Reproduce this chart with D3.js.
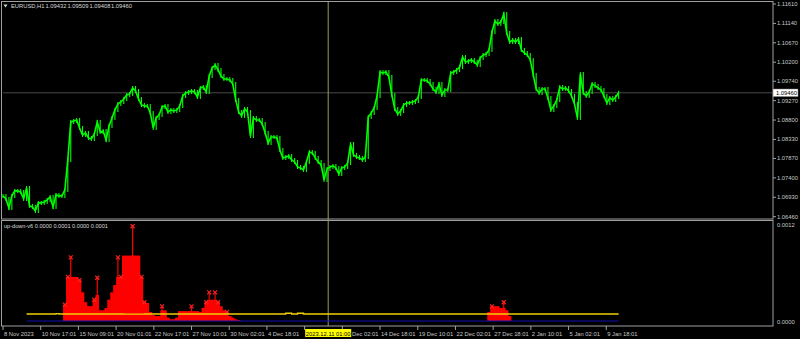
<!DOCTYPE html>
<html>
<head>
<meta charset="utf-8">
<script src="https://cdn.jsdelivr.net/npm/d3@7"></script>
<style>
  body { margin: 0; background: #000; }
  svg { display: block; }
  text { font-family: "Liberation Sans", Arial, sans-serif; font-size: 5.8px; fill: #c8c8c8; }
</style>
</head>
<body>
<svg width="800" height="339"></svg>
<script>
// EURUSD H1, one close every 5 bars
var barsPerSample = 5;
var closes = [
  1.06964,1.06891,1.06673,1.06964,1.07085,1.07085,1.07060,1.06891,1.07157,1.06722,
  1.06697,1.06601,1.06794,1.06794,1.06818,1.06867,1.06939,1.06697,1.06988,1.06964,
  1.06964,1.07109,1.07835,1.08754,1.08779,1.08803,1.08609,1.08440,1.08488,1.08367,
  1.08343,1.08464,1.08754,1.08512,1.08537,1.08319,1.08658,1.08851,1.09045,1.09190,
  1.09238,1.09311,1.09408,1.09432,1.09577,1.09505,1.09311,1.09166,1.09142,1.09142,
  1.08972,1.08609,1.08851,1.08924,1.09117,1.09142,1.08996,1.09045,1.09021,1.09045,
  1.09142,1.09384,1.09456,1.09480,1.09505,1.09480,1.09359,1.09577,1.09601,1.09480,
  1.09868,1.10061,1.10134,1.10013,1.09868,1.09795,1.09795,1.09771,1.09674,1.09287,
  1.08996,1.08900,1.09069,1.08996,1.08416,1.08851,1.08803,1.08803,1.08706,1.08488,
  1.08246,1.08391,1.08391,1.08367,1.08077,1.07883,1.07907,1.07932,1.07835,1.07786,
  1.07665,1.07641,1.07593,1.07786,1.08028,1.08004,1.07883,1.07786,1.07714,1.07351,
  1.07617,1.07665,1.07690,1.07641,1.07496,1.07641,1.07665,1.07762,1.08222,1.07956,
  1.07907,1.07883,1.07835,1.07907,1.08875,1.08972,1.09093,1.09384,1.09964,1.09940,
  1.09964,1.09843,1.09408,1.09069,1.08948,1.09021,1.09166,1.09214,1.09214,1.09238,
  1.09263,1.09359,1.09771,1.09771,1.09747,1.09674,1.09553,1.09480,1.09674,1.09408,
  1.09529,1.09529,1.09940,1.09964,1.10013,1.10085,1.10327,1.10206,1.10231,1.10255,
  1.10206,1.10134,1.10303,1.10376,1.10400,1.10497,1.10932,1.11199,1.11126,1.11174,
  1.11368,1.10908,1.10690,1.10739,1.10690,1.10763,1.10497,1.10424,1.10376,1.10255,
  1.09892,1.09553,1.09456,1.09553,1.09553,1.09335,1.09045,1.09142,1.09287,1.09601,
  1.09553,1.09577,1.09505,1.09384,1.09190,1.08851,1.09916,1.09456,1.09384,1.09480,
  1.09674,1.09626,1.09577,1.09529,1.09384,1.09214,1.09335,1.09287,1.09359,1.09460
];

var priceTicks = [1.11610,1.11140,1.10670,1.10200,1.09740,1.09270,1.08800,1.08330,1.07870,1.07400,1.06930,1.06460];
var lastPrice = 1.09460;
var titleParts = ["EURUSD,H1", "1.09432", "1.09509", "1.09408", "1.09460"];

var timeTickBars = [0,64,128,192,256,320,384,448,512,576,640,704,768,832,896,960,1024];
var timeLabels = ["8 Nov 2023","10 Nov 17:01","15 Nov 09:01","20 Nov 01:01","22 Nov 17:01","27 Nov 10:01",
  "30 Nov 02:01","4 Dec 18:01","7 Dec 10:01","11 Dec 02:01","14 Dec 18:01","19 Dec 10:01","22 Dec 02:01",
  "27 Dec 18:01","2 Jan 10:01","5 Jan 02:01","9 Jan 18:01"];
var crossBar = 552;
var crossLabel = "2023.12.11 01:00";

// up-down-v6 indicator
var upStart1 = 21;
var upVals1 = [0.00020,0.00054,0.00078,0.00054,0.00054,0.00050,0.00035,0.00023,0.00018,0.00018,
  0.00026,0.00053,0.00013,0.00013,0.00016,0.00026,0.00035,0.00044,0.00078,0.00054,
  0.00080,0.00080,0.00080,0.00116,0.00080,0.00080,0.00054,0.00023,0.00022,0.00011,
  0.00007,0.00006,0.00006,0.00018,0.00013,0.00004,0.00002,0.00002,0.00004,0.00012,
  0.00012,0.00012,0.00012,0.00018,0.00012,0.00012,0.00011,0.00016,0.00023,0.00035,
  0.00026,0.00035,0.00023,0.00018,0.00013,0.00011,0.00006,0.00004,0.00002,0.00001];
var upStart2 = 165;
var upVals2 = [0.00011,0.00018,0.00018,0.00018,0.00016,0.00023,0.00013,0.00006];
var markIdx = [21,22,23,26,31,32,39,40,44,47,48,54,64,69,70,72,73,76,166,170];
var yellowSteps = [[8,0.000086],[17,0.000086],[18,0.000090],[19,0.000086],[41,0.000084],[48,0.000086],
  [96,0.000095],[98,0.000086],[100,0.000095],[102,0.000086],[209,0.000086]];
var blueSteps = [[8,0],[209,0]];
var subTicks = [0.0012, 0.0000];

var svg = d3.select("svg");
var plotL = 3, plotR = 773;

var x = d3.scaleLinear().domain([0, 1307]).range([plotL, plotR]);
var y = d3.scaleLinear().domain([1.06460, 1.11610]).range([216.7, 4]);
var ys = d3.scaleLinear().domain([0, 0.0012]).range([321, 223]);

// frames
var frame = "#a0a0a0";
svg.append("rect").attr("x", 1.5).attr("y", 1.5).attr("width", plotR - 1.5).attr("height", 217.5)
  .attr("fill", "none").attr("stroke", frame);
svg.append("rect").attr("x", 1.5).attr("y", 220.5).attr("width", plotR - 1.5).attr("height", 105.5)
  .attr("fill", "none").attr("stroke", frame);

// crosshair
svg.append("line").attr("x1", plotL).attr("x2", plotR).attr("y1", y(lastPrice)).attr("y2", y(lastPrice))
  .attr("stroke", "#4a4a4a").attr("stroke-width", 1);
svg.append("line").attr("x1", x(crossBar)).attr("x2", x(crossBar)).attr("y1", 2).attr("y2", 326)
  .attr("stroke", "#9c9c5c").attr("stroke-width", 1);

// price
var pts = closes.map(function (c, i) { return [x(i * barsPerSample), y(c)]; });
var g = svg.append("g");
g.selectAll("line.bar").data(closes).enter().append("line")
  .attr("x1", function (d, i) { return x(i * barsPerSample); })
  .attr("x2", function (d, i) { return x(i * barsPerSample); })
  .attr("y1", function (d, i) { var p = i ? closes[i - 1] : d; return y(Math.min(p, d)) + 2; })
  .attr("y2", function (d, i) { var p = i ? closes[i - 1] : d; return y(Math.max(p, d)) - 2; })
  .attr("stroke", "#00ff00").attr("stroke-width", 1.1);
g.append("path").attr("d", d3.line()(pts)).attr("fill", "none")
  .attr("stroke", "#00ff00").attr("stroke-width", 1.6);

// price axis
var pa = svg.append("g");
pa.selectAll("line").data(priceTicks).enter().append("line")
  .attr("x1", plotR).attr("x2", plotR + 3)
  .attr("y1", function (d) { return y(d); }).attr("y2", function (d) { return y(d); })
  .attr("stroke", frame);
pa.selectAll("text").data(priceTicks).enter().append("text")
  .attr("x", plotR + 4).attr("y", function (d) { return y(d) + 2; })
  .text(function (d) { return d.toFixed(5); });
svg.append("rect").attr("x", plotR).attr("y", y(lastPrice) - 3.8).attr("width", 25).attr("height", 7.6)
  .attr("fill", "#fff").attr("stroke", "#777").attr("stroke-width", 0.5);
svg.append("text").attr("x", plotR + 3).attr("y", y(lastPrice) + 2).style("fill", "#000")
  .text(lastPrice.toFixed(5));

// title
svg.append("path").attr("d", "M3.5,4.5 L7.5,4.5 L5.5,7.5 Z").attr("fill", "#d8d8d8");
var titleX = [11, 45.5, 67.5, 89.5, 111];
svg.selectAll("text.title").data(titleParts).enter().append("text")
  .attr("x", function (d, i) { return titleX[i]; }).attr("y", 8).style("fill", "#d8d8d8")
  .text(function (d) { return d; });

// indicator histogram
var up = [];
upVals1.forEach(function (v, k) { up.push({ i: upStart1 + k, v: v }); });
upVals2.forEach(function (v, k) { up.push({ i: upStart2 + k, v: v }); });
var upMap = {};
up.forEach(function (d) { upMap[d.i] = d.v; });
var bw = x(barsPerSample) - x(0);
function body(d) {
  var nb = Math.max(upMap[d.i - 1] || 0, upMap[d.i + 1] || 0);
  return Math.min(d.v, Math.max(nb, d.v * 0.6));
}
var sub = svg.append("g");
sub.selectAll("rect").data(up).enter().append("rect")
  .attr("x", function (d) { return x(d.i * barsPerSample) - bw / 2 - 0.3; })
  .attr("width", bw + 0.6)
  .attr("y", function (d) { return ys(body(d)); })
  .attr("height", function (d) { return ys(0) - ys(body(d)); })
  .attr("fill", "#ff0000");
sub.selectAll("line.spike").data(up).enter().append("line")
  .attr("x1", function (d) { return x(d.i * barsPerSample); })
  .attr("x2", function (d) { return x(d.i * barsPerSample); })
  .attr("y1", ys(0)).attr("y2", function (d) { return ys(d.v); })
  .attr("stroke", "#ff0000").attr("stroke-width", 1.2);
sub.selectAll("path.mark").data(markIdx).enter().append("path")
  .attr("transform", function (d) { return "translate(" + x(d * barsPerSample) + "," + ys(upMap[d]) + ")"; })
  .attr("d", "M-2,-2L2,2M-2,2L2,-2")
  .attr("stroke", "#ff2020").attr("stroke-width", 1.2);

var stepLine = d3.line()
  .x(function (d) { return x(d[0] * barsPerSample); })
  .y(function (d) { return ys(d[1]); })
  .curve(d3.curveStepAfter);
svg.append("path").attr("d", stepLine(yellowSteps)).attr("fill", "none")
  .attr("stroke", "#f0d000").attr("stroke-width", 1.4);
svg.append("path").attr("d", stepLine(blueSteps)).attr("fill", "none")
  .attr("stroke", "#1010b0").attr("stroke-width", 1.2);

svg.append("text").attr("x", 4).attr("y", 228).style("fill", "#d8d8d8").style("font-size", "5.6px")
  .text("up-down-v6 0.0000 0.0001 0.0000 0.0001");
svg.selectAll("text.sub").data(subTicks).enter().append("text")
  .attr("x", plotR + 4).attr("y", function (d) { return d > 0 ? 227 : 324; })
  .text(function (d) { return d.toFixed(4); });

// time axis: the crosshair box hides the labels under it, a label it cuts keeps only its visible part
var boxL = x(crossBar) - 23, boxR = x(crossBar) + 23;
var ta = svg.append("g");
ta.selectAll("line").data(timeTickBars).enter().append("line")
  .attr("x1", function (d) { return x(d); }).attr("x2", function (d) { return x(d); })
  .attr("y1", 326).attr("y2", 330).attr("stroke", frame);
var shown = timeTickBars.map(function (b, i) {
  var lx = x(b) + 1, lab = timeLabels[i];
  if (lx >= boxL - 2 && lx < boxR - 30) return null;
  if (lx < boxR && lx >= boxR - 30) return { x: boxR + 0.8, t: lab.slice(lab.indexOf(" ") + 1) };
  return { x: lx, t: lab };
}).filter(function (d) { return d; });
ta.selectAll("text").data(shown).enter().append("text")
  .attr("x", function (d) { return d.x; }).attr("y", 335.5)
  .text(function (d) { return d.t; });
svg.append("rect").attr("x", boxL).attr("y", 329).attr("width", 46).attr("height", 8)
  .attr("fill", "#ffff00");
svg.append("text").attr("x", x(crossBar)).attr("y", 335.5).attr("text-anchor", "middle").style("fill", "#000")
  .text(crossLabel);
</script>
</body>
</html>
